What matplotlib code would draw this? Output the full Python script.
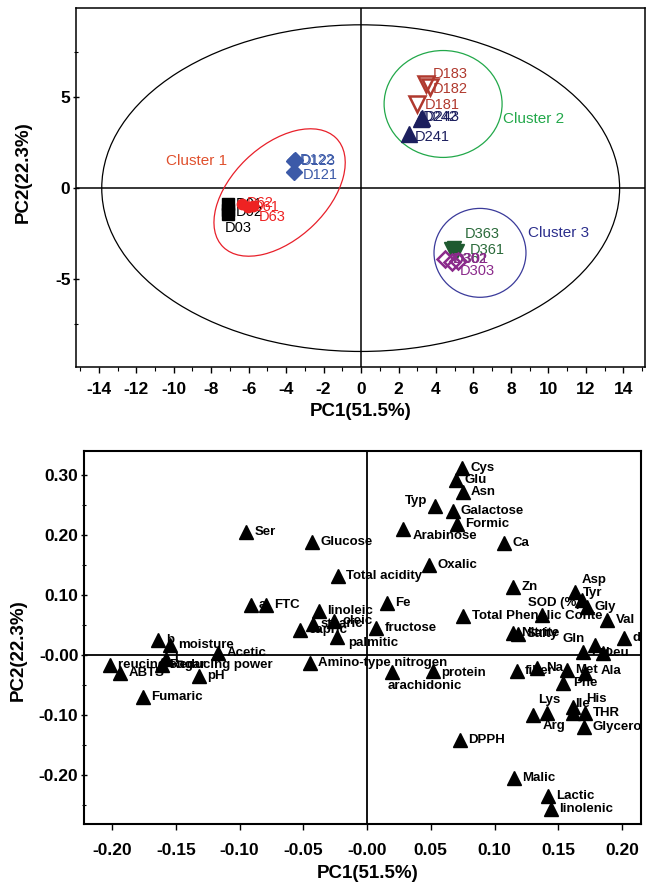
import matplotlib
matplotlib.use("Agg")
import matplotlib.pyplot as plt
from matplotlib.patches import Ellipse
from matplotlib.ticker import MultipleLocator, FixedLocator

plt.rcParams['font.family'] = ['Liberation Sans', 'DejaVu Sans']
plt.rcParams['axes.unicode_minus'] = False

W, H = 648, 891

# --------------------------------------------------
# Score data (top panel)
# --------------------------------------------------
d0_names = ['D01', 'D02', 'D03']
d0_x = [-7.1, -7.1, -7.1]
d0_y = [-0.9, -1.2, -1.45]

d6_names = ['D62', 'D61', 'D63']
d6_x = [-6.35, -6.05, -5.75]
d6_y = [-0.85, -1.05, -1.0]

d12_names = ['D121', 'D122', 'D123']
d12_x = [-3.6, -3.6, -3.55]
d12_y = [0.9, 1.5, 1.55]

d18_names = ['D181', 'D182', 'D183']
d18_x = [3.0, 3.7, 3.45]
d18_y = [4.65, 5.55, 5.75]

d24_names = ['D241', 'D242', 'D243']
d24_x = [2.55, 3.2, 3.25]
d24_y = [2.98, 3.8, 3.85]

d36_names = ['D361', 'D362', 'D363']
d36_x = [4.8, 5.1, 4.95]
d36_y = [-3.35, -3.45, -3.3]

d30_names = ['D301', 'D302', 'D303']
d30_x = [4.5, 4.85, 5.2]
d30_y = [-3.9, -4.05, -4.0]

# label offsets from the marker (data units)
score_offset = {
    'D01': (0.4, 0.0), 'D02': (0.4, -0.1), 'D03': (-0.2, -0.75),
    'D62': (0.25, 0.05), 'D61': (0.25, 0.0), 'D63': (0.3, -0.6),
    'D121': (0.5, -0.2), 'D122': (0.3, 0.05), 'D123': (0.35, -0.05),
    'D181': (0.42, -0.05), 'D182': (0.14, -0.07), 'D183': (0.39, 0.55),
    'D241': (0.33, -0.19), 'D242': (0.11, 0.14), 'D243': (0.16, 0.09),
    'D361': (1.02, -0.04), 'D362': (-0.19, -0.43), 'D363': (0.6, 0.8),
    'D301': (0.45, 0.0), 'D302': (0.06, 0.17), 'D303': (0.09, -0.58),
}

x_ticks_top = [-14, -12, -10, -8, -6, -4, -2, 0, 2, 4, 6, 8, 10, 12, 14]
y_ticks_top = [-5, 0, 5]

# --------------------------------------------------
# Loading data (bottom panel)
# --------------------------------------------------
load_names = ['Cys', 'Glu', 'Asn', 'Typ', 'Galactose', 'Formic', 'Arabinose',
              'Ca', 'Oxalic', 'Zn', 'Asp', 'Tyr', 'Gly', 'SOD (%)', 'Val', 'd',
              'Total Phenolic Conte', 'Nitrite', 'Salty', 'Fe', 'fructose',
              'Total acidity', 'Ser', 'Glucose', 'a', 'FTC', 'linoleic', 'capric',
              'stearic', 'oleic', 'palmitic', 'Amino-type nitrogen', 'arachidonic',
              'protein', 'fiber', 'Na', 'Met', 'Ala', 'Phe', 'Pro', 'Gln', 'Leu',
              'Lys', 'Arg', 'Ile', 'His', 'THR', 'Glycerol', 'DPPH', 'Malic',
              'Lactic', 'linolenic', 'b', 'moisture', 'L', 'reucing sugar',
              'Reducing power', 'ABTS', 'Acetic', 'pH', 'Fumaric']
load_x = [0.0743, 0.0698, 0.0751, 0.0533, 0.0672, 0.0708, 0.0285,
          0.1077, 0.0486, 0.1147, 0.1631, 0.1684, 0.1723, 0.137, 0.1885, 0.2016,
          0.0755, 0.1145, 0.1184, 0.0155, 0.0071,
          -0.023, -0.0949, -0.0429, -0.0912, -0.0792, -0.0379, -0.0525,
          -0.0426, -0.0259, -0.0238, -0.0447, 0.0194,
          0.0515, 0.1174, 0.1336, 0.1566, 0.171, 0.154, 0.1696, 0.1788, 0.1849,
          0.1414, 0.1304, 0.1613, 0.1618, 0.171, 0.1702, 0.0729, 0.1153,
          0.1422, 0.1441, -0.1637, -0.1545, -0.1576, -0.2016,
          -0.161, -0.1937, -0.1166, -0.1315, -0.1759]
load_y = [0.311, 0.2917, 0.2722, 0.2488, 0.2405, 0.2183, 0.2095,
          0.1872, 0.150, 0.1128, 0.1055, 0.0917, 0.0805, 0.0667, 0.0583, 0.0278,
          0.0655, 0.0367, 0.035, 0.0872, 0.0445,
          0.1317, 0.2055, 0.1888, 0.0833, 0.0833, 0.0733, 0.0417,
          0.0517, 0.0572, 0.0305, -0.0138, -0.0278,
          -0.0262, -0.0262, -0.0222, -0.025, -0.0305, -0.0472, 0.0055, 0.0167, 0.0038,
          -0.0962, -0.100, -0.0862, -0.0972, -0.0962, -0.1205, -0.1417, -0.2055,
          -0.235, -0.2572, 0.025, 0.0167, -0.0072, -0.0167,
          -0.0167, -0.0295, 0.0028, -0.035, -0.0695]

# label offsets that differ from the default (dx, dy, ha)
load_offset = {
    'Typ': (-0.006, 0.008, 'right'),
    'Arabinose': (0.007, -0.012, 'left'),
    'Asp': (0.005, 0.02, 'left'),
    'Tyr': (0.001, 0.011, 'left'),
    'SOD (%)': (-0.011, 0.02, 'left'),
    'Gln': (-0.008, 0.01, 'right'),
    'Leu': (0.002, 0.0, 'left'),
    'palmitic': (0.009, -0.011, 'left'),
    'arachidonic': (-0.003, -0.024, 'left'),
    'protein': (0.007, -0.004, 'left'),
    'Ala': (0.012, 0.004, 'left'),
    'Phe': (0.008, 0.0, 'left'),
    'Lys': (-0.007, 0.021, 'left'),
    'Arg': (0.007, -0.018, 'left'),
    'Ile': (0.002, 0.005, 'left'),
    'His': (0.01, 0.024, 'left'),
}

x_ticks_bot = [-0.20, -0.15, -0.10, -0.05, 0.0, 0.05, 0.10, 0.15, 0.20]
x_labels_bot = ['-0.20', '-0.15', '-0.10', '-0.05', '-0.00', '0.05', '0.10', '0.15', '0.20']
y_ticks_bot = [-0.20, -0.10, 0.0, 0.10, 0.20, 0.30]
y_labels_bot = ['-0.20', '-0.10', '-0.00', '0.10', '0.20', '0.30']

# --------------------------------------------------
# Figure
# --------------------------------------------------
fig = plt.figure(figsize=(W / 100, H / 100), dpi=100)

def px_axes(l, t, r, b):
    return fig.add_axes([l / W, 1 - b / H, (r - l) / W, (b - t) / H])

# ---------------- top panel ----------------
ax1 = px_axes(76, 8, 645, 367)
ax1.set_xlim(-15.22, 15.16)
ax1.set_ylim(-9.84, 9.91)
ax1.axhline(0, color='k', lw=1.1, zorder=1)
ax1.axvline(0, color='k', lw=1.1, zorder=1)

ax1.add_patch(Ellipse((-0.02, 0.0), 27.65, 17.97, fill=False, ec='k', lw=0.9))
ax1.add_patch(Ellipse((-4.35, -0.24), 8.5, 5.1, angle=45, fill=False, ec='#e8202a', lw=0.9))
ax1.add_patch(Ellipse((4.38, 4.63), 6.3, 5.88, fill=False, ec='#22a84a', lw=0.9))
ax1.add_patch(Ellipse((6.35, -3.56), 4.91, 4.89, fill=False, ec='#3a3a9a', lw=0.9))

ax1.text(-10.41, 1.52, 'Cluster 1', color='#e0502d', fontsize=11, va='center')
ax1.text(7.58, 3.83, 'Cluster 2', color='#22a84a', fontsize=11, va='center')
ax1.text(8.92, -2.49, 'Cluster 3', color='#2b2e8c', fontsize=11, va='center')

groups = [
    (d0_names, d0_x, d0_y, dict(marker='s', ms=8, mfc='k', mec='k'), 'k'),
    (d6_names, d6_x, d6_y, dict(marker='o', ms=7.5, mfc='#ee2222', mec='#ee2222'), '#ee2222'),
    (d12_names, d12_x, d12_y, dict(marker='D', ms=8, mfc='#3c5aa8', mec='#3c5aa8'), '#3c5aa8'),
    (d18_names, d18_x, d18_y, dict(marker='v', ms=12, mfc='none', mec='#b0392e', mew=1.8), '#b0392e'),
    (d24_names, d24_x, d24_y, dict(marker='^', ms=11, mfc='#1c1f5e', mec='#1c1f5e'), '#1c1f5e'),
    (d36_names, d36_x, d36_y, dict(marker='v', ms=10.5, mfc='#1f5a30', mec='#1f5a30'), '#2a6a3a'),
    (d30_names, d30_x, d30_y, dict(marker='D', ms=8, mfc='none', mec='#8b2a8b', mew=1.8), '#8b2a8b'),
]
z = 3
for names, xs, ys, style, tcolor in groups:
    ax1.plot(xs, ys, ls='none', zorder=z, **style)
    for n, x, y in zip(names, xs, ys):
        dx, dy = score_offset[n]
        ax1.text(x + dx, y + dy, n, color=tcolor, fontsize=10.5,
                 va='center', ha='left', zorder=z + 1)
    z += 2

ax1.xaxis.set_major_locator(FixedLocator(x_ticks_top))
ax1.xaxis.set_minor_locator(MultipleLocator(1))
ax1.yaxis.set_major_locator(FixedLocator(y_ticks_top))
ax1.yaxis.set_minor_locator(FixedLocator([-7.5, 7.5]))
ax1.tick_params(axis='x', which='both', direction='out', pad=7)
ax1.tick_params(axis='y', which='both', direction='inout', pad=2)
ax1.tick_params(which='major', length=4, width=1.0, labelsize=12.5)
ax1.tick_params(which='minor', length=3, width=0.8)
for lab in ax1.get_xticklabels() + ax1.get_yticklabels():
    lab.set_fontweight('bold')
for sp in ax1.spines.values():
    sp.set_linewidth(1.1)

fig.text(361 / W, 1 - 411 / H, 'PC1(51.5%)', ha='center', va='center',
         fontsize=13.5, fontweight='bold')
fig.text(23 / W, 1 - 172 / H, 'PC2(22.3%)', ha='center', va='center',
         rotation=90, fontsize=13.5, fontweight='bold')

# ---------------- bottom panel ----------------
ax2 = px_axes(84, 451, 641, 824)
ax2.set_xlim(-0.222, 0.2149)
ax2.set_ylim(-0.2817, 0.34)
ax2.axhline(0, color='k', lw=1.3, zorder=1)
ax2.axvline(0, color='k', lw=1.3, zorder=1)

for n, x, y in zip(load_names, load_x, load_y):
    dx, dy, ha = load_offset.get(n, (0.0065, 0.0, 'left'))
    ax2.text(x + dx, y + dy, n, fontsize=9.5, fontweight='bold',
             ha=ha, va='center', zorder=2, clip_on=True)
ax2.plot(load_x, load_y, ls='none', marker='^', ms=10, color='k', zorder=3)

ax2.xaxis.set_major_locator(FixedLocator(x_ticks_bot))
ax2.set_xticklabels(x_labels_bot)
ax2.yaxis.set_major_locator(FixedLocator(y_ticks_bot))
ax2.set_yticklabels(y_labels_bot)
ax2.yaxis.set_minor_locator(MultipleLocator(0.05))
ax2.tick_params(axis='x', which='both', direction='out', pad=10)
ax2.tick_params(axis='y', which='both', direction='inout', pad=2)
ax2.tick_params(which='major', length=4, width=1.0, labelsize=12.5)
ax2.tick_params(which='minor', length=3, width=0.8)
for lab in ax2.get_xticklabels() + ax2.get_yticklabels():
    lab.set_fontweight('bold')
for sp in ax2.spines.values():
    sp.set_linewidth(1.5)

fig.text(368 / W, 1 - 873 / H, 'PC1(51.5%)', ha='center', va='center',
         fontsize=13.5, fontweight='bold')
fig.text(18.5 / W, 1 - 650 / H, 'PC2(22.3%)', ha='center', va='center',
         rotation=90, fontsize=13.5, fontweight='bold')

fig.savefig('out.png', dpi=100)
